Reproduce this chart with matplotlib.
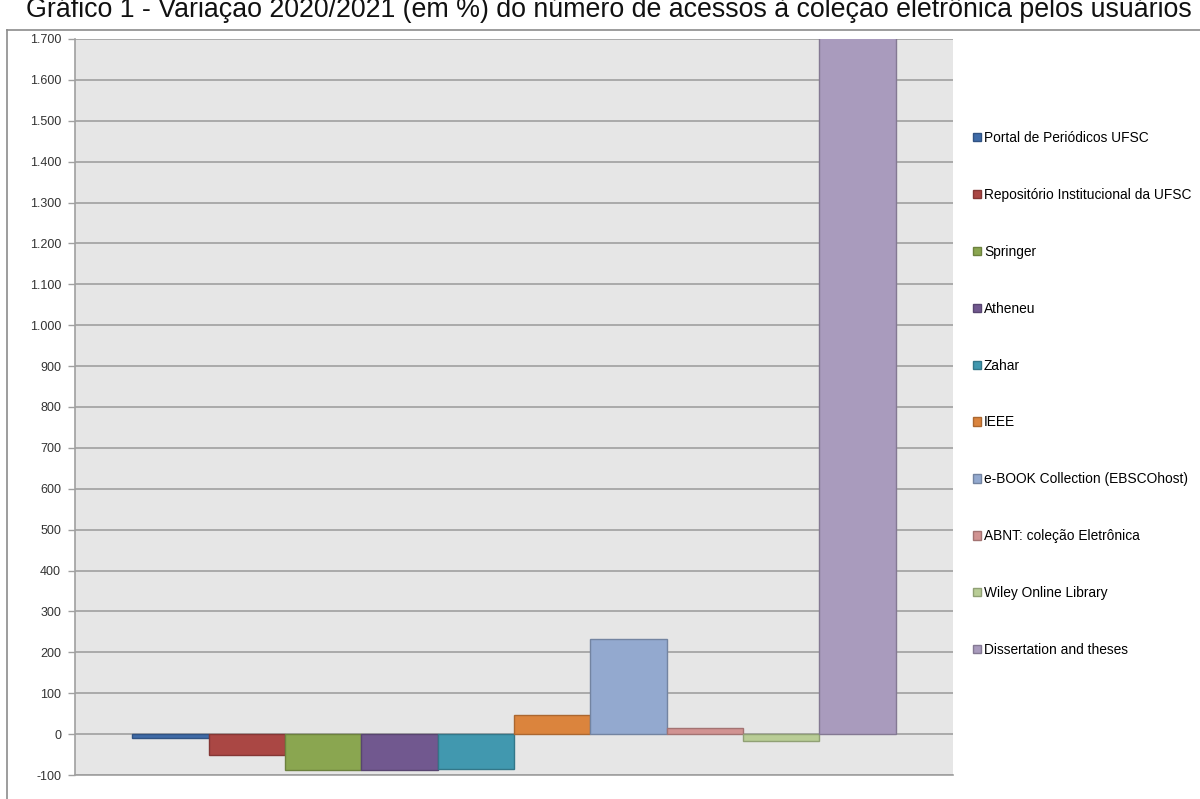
import numpy as np
import matplotlib.pyplot as plt
from matplotlib.ticker import FuncFormatter
from matplotlib.colors import to_rgb

plt.rcParams['font.family'] = ['Liberation Sans', 'DejaVu Sans']

fontes = [
    "Portal de Periódicos UFSC",
    "Repositório Institucional da UFSC",
    "Springer",
    "Atheneu",
    "Zahar",
    "IEEE",
    "e-BOOK Collection (EBSCOhost)",
    "ABNT: coleção Eletrônica",
    "Wiley Online Library",
    "Dissertation and theses",
]
variacao = [-10, -50, -88, -87, -86, 46, 233, 15, -17, 1750]
cores = ["#3F6BA8", "#AA4744", "#8AA650", "#71588F", "#4198AF",
         "#DB843D", "#93A9CF", "#D19392", "#B9CD96", "#A99BBD"]

titulo = "Gráfico 1 - Variação 2020/2021 (em %) do número de acessos à coleção eletrônica pelos usuários"


def escurecer(c, f=0.78):
    r, g, b = to_rgb(c)
    return (r * f, g * f, b * f)


fig = plt.figure(figsize=(12, 7.99), dpi=100)
ax = fig.add_axes([75 / 1200, 1 - 775 / 799, (953 - 75) / 1200, (775 - 39) / 799])
ax.set_facecolor("#E6E6E6")

x = np.arange(len(variacao))
for i in range(len(variacao)):
    ax.bar(x[i], variacao[i], width=1.0, color=cores[i],
           edgecolor=escurecer(cores[i]), linewidth=1.0,
           label=fontes[i], zorder=3)

ax.set_xlim(-1.25, len(variacao) + 0.25)
ax.set_ylim(-100, 1700)
ax.set_yticks(np.arange(-100, 1701, 100))
ax.yaxis.set_major_formatter(FuncFormatter(lambda v, p: f"{int(v):,}".replace(",", ".")))
ax.yaxis.grid(True, color="#A0A0A0", linewidth=1.2, zorder=1)
ax.set_xticks([])
ax.tick_params(axis="y", labelsize=9, colors="#333333", length=5,
               width=1, direction="out", pad=5)
ax.tick_params(axis="y", color="#A0A0A0")
for s in ["top", "right"]:
    ax.spines[s].set_visible(False)
ax.spines["left"].set_color("#A0A0A0")
ax.spines["bottom"].set_color("#A0A0A0")
ax.spines["left"].set_linewidth(1.2)
ax.spines["bottom"].set_linewidth(1.2)

leg = ax.legend(loc="upper left", bbox_to_anchor=(973 / 1200, 1 - 131 / 799),
                bbox_transform=fig.transFigure, frameon=False, fontsize=9.9,
                handlelength=0.55, handleheight=0.55, handletextpad=0.25,
                labelspacing=3.12, borderpad=0, borderaxespad=0)

# moldura externa do gráfico
fig.add_artist(plt.Line2D([7 / 1200, 7 / 1200], [0, 1 - 30 / 799],
                          transform=fig.transFigure, color="#8C8C8C", linewidth=1.2))
fig.add_artist(plt.Line2D([7 / 1200, 1], [1 - 30 / 799, 1 - 30 / 799],
                          transform=fig.transFigure, color="#8C8C8C", linewidth=1.2))

fig.text(0.507, 1 - 17 / 799, titulo, ha="center", va="baseline", fontsize=19.3, color="#111111")

fig.savefig("out.png", dpi=100)
